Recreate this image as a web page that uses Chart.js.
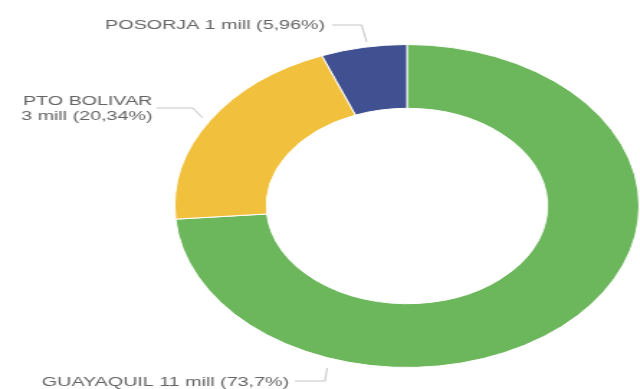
<!DOCTYPE html>
<html>
<head>
<meta charset="utf-8">
<title>Carga por puerto</title>
<script src="https://cdn.jsdelivr.net/npm/chart.js@4/dist/chart.umd.min.js"></script>
<style>
    html, body {
        margin: 0;
        padding: 0;
        background: #ffffff;
        overflow: hidden;
        width: 640px;
        height: 389px;
    }
    /* the ring is drawn round and stretched sideways into an oval */
    #wrap {
        position: absolute;
        left: 0;
        top: 0;
        transform: scaleX(1.438);
        transform-origin: 0 0;
    }
</style>
</head>
<body>
<div id="wrap">
    <canvas id="portChart" width="445" height="389"></canvas>
</div>
<script>
// Ports, rounded tonnage in millions and share of total (%)
const ports = ['GUAYAQUIL', 'PTO BOLIVAR', 'POSORJA'];
const millions = [11, 3, 1];
const shares = [73.7, 20.34, 5.96];
const colors = ['#6cb65b', '#f1c13e', '#405090'];

// Label placement: text anchor (right aligned) and leader line points, in canvas px
const labelLayout = [
    { lines: 1, x: 201, y: 382, leader: [[205, 381], [226, 381], [227.5, 368]] },
    { lines: 2, x: 106, y: 101, leader: [[109, 108], [134, 108], [141, 118]] },
    { lines: 1, x: 226, y: 25, leader: [[231, 25], [251.5, 25], [255, 42]] }
];

function formatShare(v) {
    return String(v).replace('.', ',');
}

function labelText(i) {
    const tail = millions[i] + ' mill (' + formatShare(shares[i]) + '%)';
    if (labelLayout[i].lines === 2) {
        return [ports[i], tail];
    }
    return [ports[i] + ' ' + tail];
}

const calloutPlugin = {
    id: 'callouts',
    afterDraw(chart) {
        const ctx = chart.ctx;
        ctx.save();
        ctx.font = '13.7px "Liberation Sans", Arial, sans-serif';
        ctx.fillStyle = '#636363';
        ctx.textAlign = 'right';
        ctx.textBaseline = 'middle';
        ctx.strokeStyle = '#c4c4c4';
        ctx.lineWidth = 1;

        chart.getDatasetMeta(0).data.forEach((arc, i) => {
            const lay = labelLayout[i];
            labelText(i).forEach((line, k) => {
                ctx.fillText(line, lay.x, lay.y + k * 15);
            });
            ctx.beginPath();
            lay.leader.forEach((p, k) => {
                if (k === 0) ctx.moveTo(p[0], p[1]);
                else ctx.lineTo(p[0], p[1]);
            });
            ctx.stroke();
        });
        ctx.restore();
    }
};

const ctx = document.getElementById('portChart').getContext('2d');
new Chart(ctx, {
    type: 'doughnut',
    data: {
        labels: ports,
        datasets: [{
            data: shares,
            backgroundColor: colors,
            borderColor: '#ffffff',
            borderWidth: 1
        }]
    },
    options: {
        responsive: false,
        animation: false,
        cutout: '60.5%',
        layout: {
            padding: { top: 44, bottom: 21, left: 121, right: 0 }
        },
        plugins: {
            legend: { display: false },
            tooltip: { enabled: false }
        }
    },
    plugins: [calloutPlugin]
});
</script>
</body>
</html>
